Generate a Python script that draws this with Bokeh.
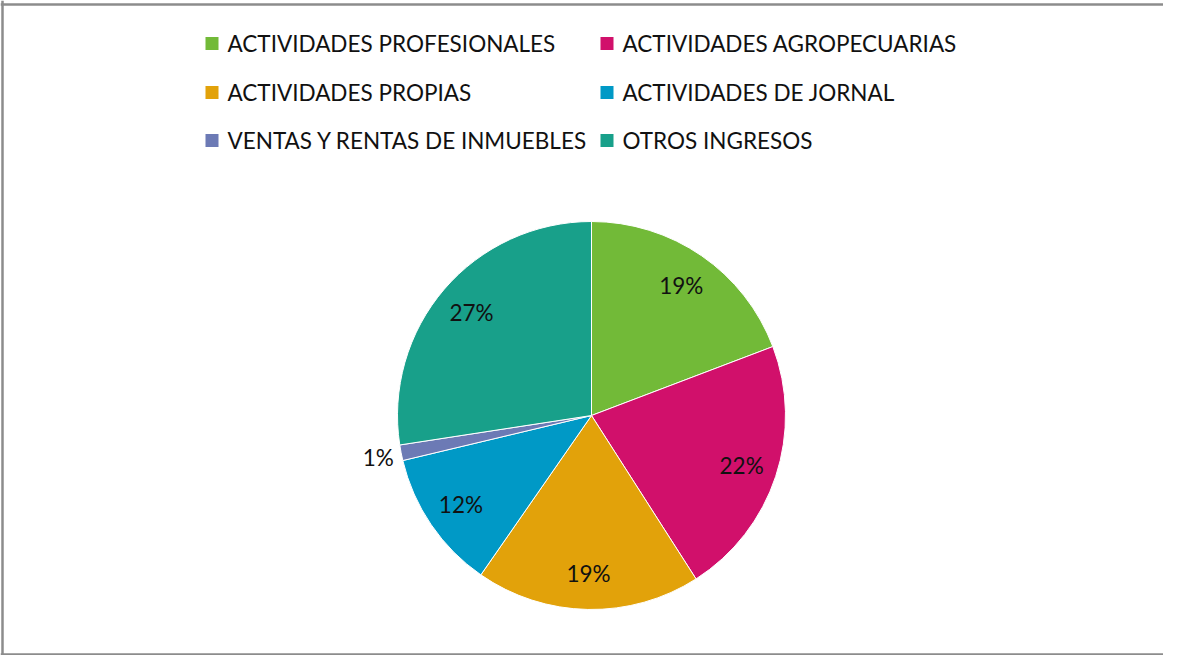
import math
from bokeh.plotting import figure
from bokeh.models import ColumnDataSource, Range1d
from bokeh.core.properties import value
from bokeh.embed import file_html
from bokeh.resources import INLINE

categories = ["ACTIVIDADES PROFESIONALES", "ACTIVIDADES AGROPECUARIAS",
              "ACTIVIDADES PROPIAS", "ACTIVIDADES DE JORNAL",
              "VENTAS Y RENTAS DE INMUEBLES", "OTROS INGRESOS"]
shares = [19.2, 21.7, 18.7, 11.6, 1.3, 27.4]
colors = ["#72BA38", "#D1106B", "#E2A20A", "#0099C6", "#6C7AB5", "#18A08A"]

W, H = 1163, 655
FONT = "Lato"
FS = "22.5px"

def X(px):
    return px

def Y(py):
    return H - py

p = figure(width=W, height=H, output_backend="svg", toolbar_location=None,
           x_range=Range1d(0, W), y_range=Range1d(0, H),
           min_border=0, outline_line_color=None)
p.axis.visible = False
p.grid.visible = False
p.background_fill_color = "white"
p.border_fill_color = "white"

# frame border (left, top, bottom)
p.segment(x0=[X(2), X(0), X(0)], y0=[Y(0), Y(4), Y(H - 1)],
          x1=[X(2), X(W), X(W)], y1=[Y(H), Y(4), Y(H - 1)],
          line_color="#8C8C8C", line_width=2.5)

# pie
cx, cy, R = X(591), Y(415), 194
total = sum(shares)
starts, ends, lx, ly, labels = [], [], [], [], []
cum = 0.0
for i, s in enumerate(shares):
    a0 = math.pi / 2 - 2 * math.pi * cum / total
    cum += s
    a1 = math.pi / 2 - 2 * math.pi * cum / total
    starts.append(a0)
    ends.append(a1)
    mid = (a0 + a1) / 2
    rr = 0.815 * R if s >= 3 else 1.12 * R
    lx.append(cx + rr * math.cos(mid))
    ly.append(cy + rr * math.sin(mid))
    labels.append(f"{round(s / total * 100)}%")

src = ColumnDataSource(dict(start=starts, end=ends, color=colors,
                            lx=lx, ly=ly, label=labels))
p.wedge(x=cx, y=cy, radius=R, start_angle="start", end_angle="end",
        direction="clock", fill_color="color", line_color="white",
        line_width=1, source=src)
p.text(x="lx", y="ly", text="label", source=src, text_font=value(FONT),
       text_font_size=FS, text_color="#111111", text_align="center",
       text_baseline="middle")

# legend
col_x = [X(205), X(600)]
row_y = [Y(43), Y(92), Y(140)]
sq = 13
leg_x, leg_y, txt_x = [], [], []
for i in range(len(categories)):
    c, r = i % 2, i // 2
    leg_x.append(col_x[c] + sq / 2)
    leg_y.append(row_y[r])
    txt_x.append(col_x[c] + sq + 9)
lsrc = ColumnDataSource(dict(x=leg_x, y=leg_y, tx=txt_x, name=categories,
                             color=colors))
p.rect(x="x", y="y", width=sq, height=sq, fill_color="color",
       line_color=None, source=lsrc)
p.text(x="tx", y="y", text="name", source=lsrc, text_font=value(FONT),
       text_font_size=FS, text_color="#111111", text_align="left",
       text_baseline="middle")

open("out.html", "w").write(file_html(p, INLINE))
